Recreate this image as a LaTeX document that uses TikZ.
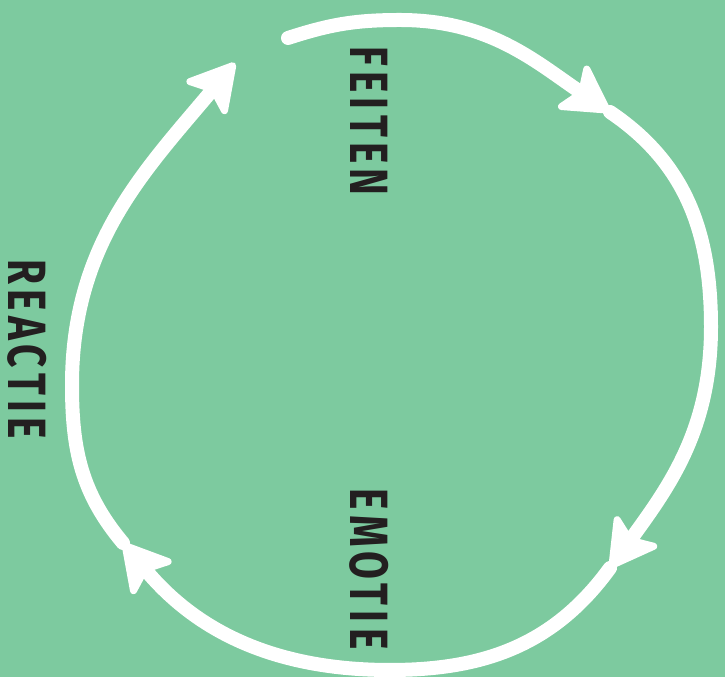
\documentclass[tikz,border=0pt]{standalone}
\usepackage{fontspec}
\newfontfamily\handfont{Fira Sans}[FakeStretch=0.75, LetterSpace=10]
\definecolor{loopgreen}{HTML}{7DCA9F}
\definecolor{inkblack}{HTML}{231F20}
\usetikzlibrary{arrows.meta}
\tikzset{
	loopline/.style={line width=0.42cm, draw=white, line cap=round},
	loophead/.style={-{Stealth[length=1.6cm, width=1.8cm, inset=0.35cm, line width=6pt, round]}},
	cyclelabel/.style={rotate=-90, inner sep=0pt, text=inkblack,
		font=\handfont\bfseries\fontsize{46}{50}\selectfont}
}

\begin{document}
\begin{tikzpicture}[x=0.03cm, y=0.03cm]
	\fill[loopgreen] (0,0) rectangle (725,677);
	\useasboundingbox (0,0) rectangle (725,677);
	% points on the loop
	\coordinate (start) at (288,639);
	\coordinate (top) at (400,657);
	\coordinate (headA) at (610,565);
	\coordinate (right) at (711,350);
	\coordinate (headB) at (610,109);
	\coordinate (bottom) at (390,7);
	\coordinate (headC) at (123,134);
	\coordinate (left) at (72,292);
	\coordinate (headD) at (235,614);
	% labels
	\node[cyclelabel] (feiten) at (369,556) {FEITEN};
	\node[cyclelabel] (emotie) at (369,108) {EMOTIE};
	\node[cyclelabel] (reactie) at (27,328) {REACTIE};
	% the cycle
	\draw[loopline, loophead] (start) to[out=18, in=180] (top) to[out=0, in=146] (headA);
	\draw[loopline, loophead] (headA) to[out=-34, in=90] (right) to[out=-90, in=54] (headB);
	\draw[loopline, loophead] (headB) to[out=-126, in=0] (bottom) to[out=180, in=-50] (headC);
	\draw[loopline, loophead] (headC) to[out=130, in=-90] (left) to[out=90, in=-130] (headD);
\end{tikzpicture}
\end{document}
